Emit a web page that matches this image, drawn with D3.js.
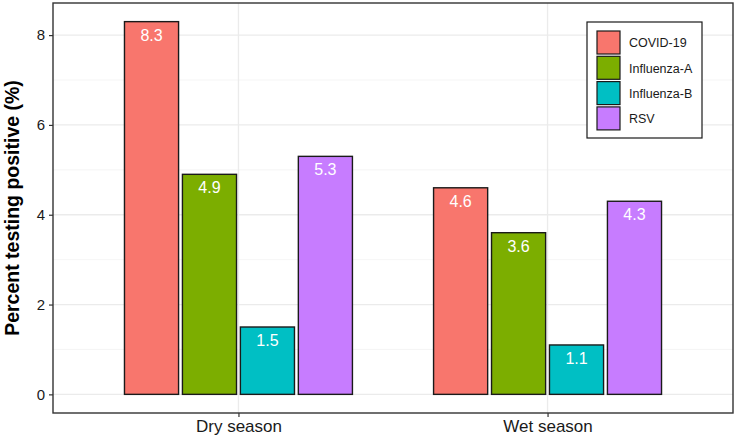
<!DOCTYPE html>
<html>
<head>
<meta charset="utf-8">
<script src="https://cdn.jsdelivr.net/npm/d3@7"></script>
<style>
  body { margin: 0; background: #fff; }
  svg { font-family: "Liberation Sans", Arial, sans-serif; }
</style>
</head>
<body>
<div id="chart"></div>
<script>
// Data
const seasons = ["Dry season", "Wet season"];
const viruses = ["COVID-19", "Influenza-A", "Influenza-B", "RSV"];
const dryValues = [8.3, 4.9, 1.5, 5.3];
const wetValues = [4.6, 3.6, 1.1, 4.3];
const yTicks = [0, 2, 4, 6, 8];
const colors = ["#F8766D", "#7CAE00", "#00BFC4", "#C77CFF"];

const width = 738;
const height = 439;
const panel = { left: 53, top: 3, right: 733, bottom: 413 };

const rows = [];
seasons.forEach((s, i) => {
  const vals = i === 0 ? dryValues : wetValues;
  viruses.forEach((v, j) => rows.push({ season: s, virus: v, value: vals[j] }));
});

const svg = d3.select("#chart")
  .append("svg")
  .attr("width", width)
  .attr("height", height);

// ggplot style expansion
const maxVal = d3.max(rows, d => d.value);
const y = d3.scaleLinear()
  .domain([-0.05 * maxVal, maxVal * 1.05])
  .range([panel.bottom, panel.top]);

// discrete x: positions 1..n with 0.6 expansion
const xPos = d3.scaleLinear()
  .domain([0.4, seasons.length + 0.6])
  .range([panel.left, panel.right]);
const unit = xPos(2) - xPos(1);
const dodge = 0.75, barW = 0.7;
const xInner = d3.scaleBand()
  .domain(viruses)
  .range([-dodge / 2 * unit, dodge / 2 * unit]);
const color = d3.scaleOrdinal().domain(viruses).range(colors);

// grid
const grid = svg.append("g");
const minor = d3.range(1, 8, 2);
grid.selectAll(".minor")
  .data(minor)
  .join("line")
  .attr("x1", panel.left).attr("x2", panel.right)
  .attr("y1", d => y(d)).attr("y2", d => y(d))
  .attr("stroke", "#F0F0F0").attr("stroke-width", 0.7);
grid.selectAll(".major")
  .data(yTicks)
  .join("line")
  .attr("x1", panel.left).attr("x2", panel.right)
  .attr("y1", d => y(d)).attr("y2", d => y(d))
  .attr("stroke", "#EBEBEB").attr("stroke-width", 1.3);
grid.selectAll(".vmajor")
  .data(seasons)
  .join("line")
  .attr("x1", (d, i) => xPos(i + 1)).attr("x2", (d, i) => xPos(i + 1))
  .attr("y1", panel.top).attr("y2", panel.bottom)
  .attr("stroke", "#EBEBEB").attr("stroke-width", 1.3);

// bars
const bw = (barW / viruses.length) * unit;
const bars = svg.append("g")
  .selectAll("g")
  .data(rows)
  .join("g")
  .attr("transform", d => `translate(${xPos(seasons.indexOf(d.season) + 1) + xInner(d.virus) + xInner.bandwidth() / 2},0)`);

bars.append("rect")
  .attr("x", -bw / 2)
  .attr("width", bw)
  .attr("y", d => y(d.value))
  .attr("height", d => y(0) - y(d.value))
  .attr("fill", d => color(d.virus))
  .attr("stroke", "#1a1a1a")
  .attr("stroke-width", 1.4);

bars.append("text")
  .attr("y", d => y(d.value) + 19)
  .attr("text-anchor", "middle")
  .attr("fill", "#fff")
  .style("font-size", "16px")
  .text(d => d3.format(".1f")(d.value));

// panel border
svg.append("rect")
  .attr("x", panel.left).attr("y", panel.top)
  .attr("width", panel.right - panel.left)
  .attr("height", panel.bottom - panel.top)
  .attr("fill", "none")
  .attr("stroke", "#333")
  .attr("stroke-width", 1.4);

// y axis
const yAxis = svg.append("g")
  .attr("transform", `translate(${panel.left},0)`)
  .call(d3.axisLeft(y).tickValues(yTicks).tickSize(4).tickPadding(4));
yAxis.select(".domain").remove();
yAxis.selectAll("line").attr("stroke", "#333").attr("stroke-width", 1.2);
yAxis.selectAll("text").attr("fill", "#1a1a1a").style("font-size", "15px")
  .style("font-family", "Liberation Sans, Arial, sans-serif");

// x axis
const xAxis = svg.append("g")
  .attr("transform", `translate(0,${panel.bottom})`)
  .call(d3.axisBottom(xPos).tickValues([1, 2]).tickFormat(d => seasons[d - 1]).tickSize(4).tickPadding(3));
xAxis.select(".domain").remove();
xAxis.selectAll("line").attr("stroke", "#333").attr("stroke-width", 1.2);
xAxis.selectAll("text").attr("fill", "#1a1a1a").style("font-size", "17px")
  .style("font-family", "Liberation Sans, Arial, sans-serif");

// y title
svg.append("text")
  .attr("transform", `translate(19,${(panel.top + panel.bottom) / 2}) rotate(-90)`)
  .attr("text-anchor", "middle")
  .style("font-size", "19.5px")
  .style("font-weight", "bold")
  .text("Percent testing positive (%)");

// legend
const lg = svg.append("g").attr("transform", "translate(587,22)");
lg.append("rect")
  .attr("width", 115).attr("height", 116)
  .attr("fill", "#fff")
  .attr("stroke", "#1a1a1a").attr("stroke-width", 1.2);
const items = lg.selectAll(".item")
  .data(viruses)
  .join("g")
  .attr("transform", (d, i) => `translate(10,${9 + i * 25.3})`);
items.append("rect")
  .attr("width", 23).attr("height", 23)
  .attr("fill", d => color(d))
  .attr("stroke", "#1a1a1a").attr("stroke-width", 1.2);
items.append("text")
  .attr("x", 32).attr("y", 12)
  .attr("dy", "0.35em")
  .style("font-size", "12.5px")
  .attr("fill", "#1a1a1a")
  .text(d => d);
</script>
</body>
</html>
